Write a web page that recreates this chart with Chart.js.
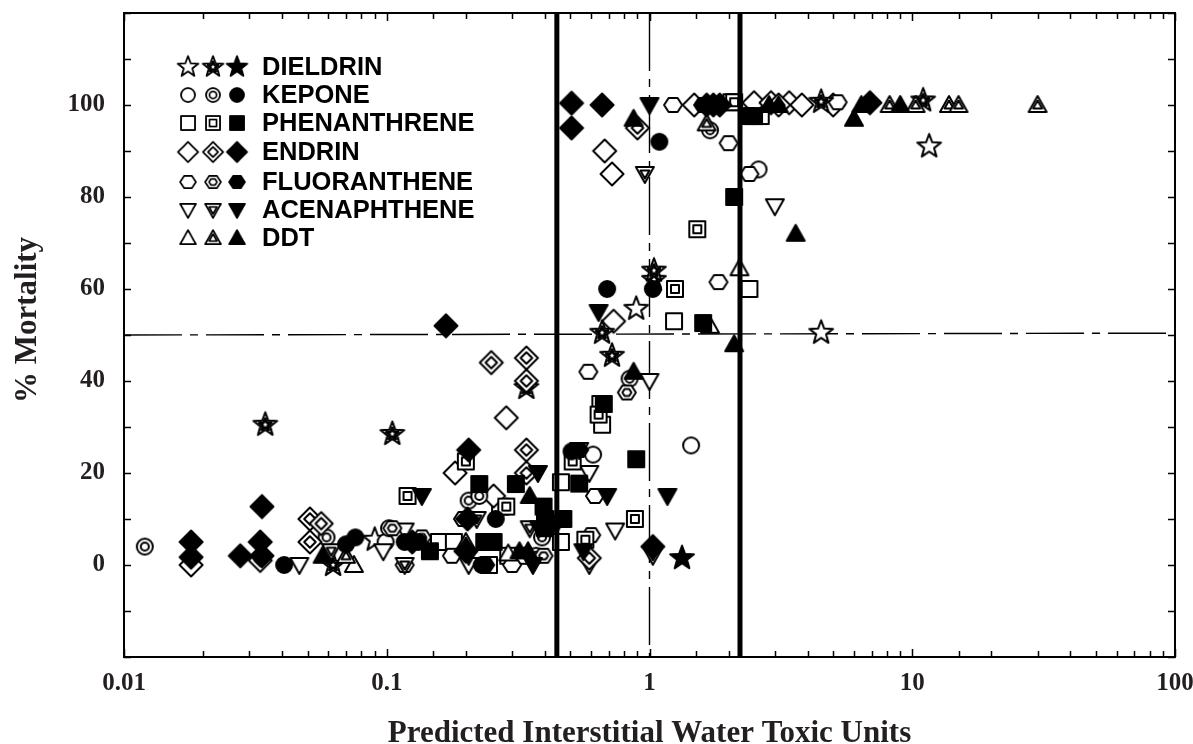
<!DOCTYPE html>
<html>
<head>
<meta charset="utf-8">
<script src="https://cdn.jsdelivr.net/npm/chart.js@4"></script>
<style>
body { margin: 0; background: #fff; }
canvas { display: block; }
</style>
</head>
<body>
<canvas id="mortality" width="1193" height="744"></canvas>
<script>
// values, [toxic units, % mortality]
var dieldrinOpen = [[0.09,5.5],[0.89,55.7],[4.5,50.5],[11.6,91]];
var dieldrinDouble = [[0.0345,30.5],[0.105,28.5],[0.0625,0],[0.34,38.5],[0.66,50.5],[0.72,45.5],[1.04,62],[1.04,64],[4.5,100.7],[11,101]];
var dieldrinFilled = [[1.33,1.5]];
var keponeOpen = [[0.099,5],[0.61,24],[1.44,26],[2.6,86]];
var keponeDouble = [[0.012,4],[0.059,6],[0.102,8],[0.205,14],[0.225,15],[0.34,20],[0.39,6],[0.37,2],[0.84,40.5],[1.7,94.5]];
var keponeFilled = [[0.0407,0],[0.07,4.5],[0.076,6],[0.117,5],[0.132,5],[0.26,10],[0.23,0],[0.43,9],[0.505,24.7],[0.69,60],[1.03,60],[1.09,92]];
var phenanthreneOpen = [[0.158,5],[0.18,5],[0.27,12.7],[0.245,0],[0.29,2],[0.33,2],[0.46,18],[0.46,5],[0.66,30.5],[0.65,35],[1.24,53],[2.4,60],[2.65,97.6],[2.05,100.6]];
var phenanthreneDouble = [[0.12,15],[0.2,22.5],[0.285,12.7],[0.51,22.5],[0.64,32.7],[0.57,5.5],[0.88,10],[1.25,60],[1.52,73],[2.1,100.6]];
var phenanthreneFilled = [[0.146,3],[0.225,17.6],[0.235,5],[0.255,5],[0.31,17.6],[0.395,12.7],[0.4,8],[0.4,10],[0.47,10],[0.54,17.7],[0.67,35],[0.89,23],[1.6,52.6],[2.1,80],[2.35,97.6],[2.5,97.6]];
var endrinOpen = [[0.018,0],[0.182,20],[0.255,15],[0.285,32],[0.675,90],[0.72,85],[0.73,53],[1.48,100],[2.5,100.5],[2.9,100.5],[3.4,100.5],[3.8,100],[5,100]];
var endrinDouble = [[0.033,1],[0.051,10],[0.0563,9],[0.051,5],[0.25,44],[0.34,45],[0.34,40],[0.34,25],[0.34,20],[0.59,1.5],[0.9,95],[3.1,100]];
var endrinFilled = [[0.018,5],[0.018,1.7],[0.0335,12.7],[0.033,5],[0.0277,2],[0.0335,2],[0.125,5],[0.168,52],[0.2,3],[0.205,25],[0.203,10],[0.505,100.4],[0.505,95],[0.66,100],[1.03,4],[1.65,100],[1.75,100],[1.85,100],[6.9,100.5]];
var fluorantheneOpen = [[0.195,10],[0.177,2],[0.3,0],[0.585,42],[0.62,15],[0.6,6.5],[1.23,100],[1.83,61.5],[2,91.7],[2.4,85],[5.2,100.6]];
var fluorantheneDouble = [[0.105,8],[0.117,0],[0.136,6],[0.395,2],[0.82,37.5],[1.7,100]];
var fluorantheneFilled = [[0.237,0],[0.54,25],[1.6,100]];
var acenaphtheneOpen = [[0.0465,0],[0.097,3],[0.117,7.5],[0.205,0],[0.59,0],[0.59,20],[0.74,7.5],[1,40],[3,78]];
var acenaphtheneDouble = [[0.0615,3],[0.117,0],[0.22,10],[0.35,8],[0.54,25],[0.96,85],[1.03,2]];
var acenaphtheneFilled = [[0.136,15],[0.205,2],[0.36,0],[0.38,8],[0.376,20],[0.56,3],[0.64,55],[0.69,15],[1,100],[1.17,15]];
var ddtOpen = [[0.075,0],[0.29,2.5],[1.7,52],[2.2,64.5]];
var ddtDouble = [[0.07,2],[0.2,5],[1.65,96],[8.2,100],[10.3,100],[13.8,100],[15,100],[30,100]];
var ddtFilled = [[0.057,2],[0.32,3],[0.345,3],[0.35,15],[0.87,42],[0.87,97],[2.1,48],[2.85,100],[3.1,100],[3.6,72],[6,97],[6.4,100],[9,100]];

var lowerBound = [[0.444,120],[0.444,-20]];
var upperBound = [[2.21,120],[2.21,-20]];
var unitLine = [[1,120],[1,-20]];
var halfLine = [[0.01,50],[100,50.4]];

var xTickLabels = [0.01,0.1,1,10,100];
var yTickLabels = [0,20,40,60,80,100];
var compounds = ['DIELDRIN','KEPONE','PHENANTHRENE','ENDRIN','FLUORANTHENE','ACENAPHTHENE','DDT'];
var shapes = ['star','circle','square','diamond','hexagon','triangleDown','triangleUp'];
var seriesByCompound = [
  [dieldrinOpen,dieldrinDouble,dieldrinFilled],
  [keponeOpen,keponeDouble,keponeFilled],
  [phenanthreneOpen,phenanthreneDouble,phenanthreneFilled],
  [endrinOpen,endrinDouble,endrinFilled],
  [fluorantheneOpen,fluorantheneDouble,fluorantheneFilled],
  [acenaphtheneOpen,acenaphtheneDouble,acenaphtheneFilled],
  [ddtOpen,ddtDouble,ddtFilled]
];

var legendRowY = [67,95,123,152,182,210,238];
var legendMarkX = [188,213,237];

function toPoints(pairs) {
  return pairs.map(function(p) { return {x: p[0], y: p[1]}; });
}

function tracePath(c, shape, s) {
  c.beginPath();
  if (shape == 'circle') {
    c.arc(0, 0, 8 * s, 0, Math.PI * 2);
  } else if (shape == 'square') {
    c.rect(-8 * s, -8 * s, 16 * s, 16 * s);
  } else if (shape == 'diamond') {
    c.moveTo(0, -11.5 * s); c.lineTo(11.5 * s, 0); c.lineTo(0, 11.5 * s); c.lineTo(-11.5 * s, 0);
    c.closePath();
  } else if (shape == 'hexagon') {
    c.moveTo(-9 * s, 0); c.lineTo(-4.5 * s, -7 * s); c.lineTo(4.5 * s, -7 * s);
    c.lineTo(9 * s, 0); c.lineTo(4.5 * s, 7 * s); c.lineTo(-4.5 * s, 7 * s);
    c.closePath();
  } else if (shape == 'triangleDown') {
    c.moveTo(-9 * s, -7 * s); c.lineTo(9 * s, -7 * s); c.lineTo(0, 9 * s);
    c.closePath();
  } else if (shape == 'triangleUp') {
    c.moveTo(-9 * s, 7 * s); c.lineTo(9 * s, 7 * s); c.lineTo(0, -9 * s);
    c.closePath();
  } else if (shape == 'star') {
    for (var i = 0; i < 10; i++) {
      var r = (i % 2 ? 5.2 : 12.5) * s;
      var a = -Math.PI / 2 + i * Math.PI / 5;
      c[i ? 'lineTo' : 'moveTo'](r * Math.cos(a), r * Math.sin(a));
    }
    c.closePath();
  }
}

function makeMarker(shape, variant) {
  var cv = document.createElement('canvas');
  cv.width = 32; cv.height = 32;
  var c = cv.getContext('2d');
  c.translate(16, 16);
  c.lineJoin = 'round';
  c.strokeStyle = '#000';
  c.fillStyle = variant == 2 ? '#000' : '#fff';
  c.lineWidth = 2;
  tracePath(c, shape, 1);
  c.fill();
  c.stroke();
  if (variant == 1) {
    if (shape == 'star') c.lineWidth = 2.6;
    tracePath(c, shape, 0.5);
    c.stroke();
  }
  return cv;
}

var markers = shapes.map(function(sh) {
  return [makeMarker(sh, 0), makeMarker(sh, 1), makeMarker(sh, 2)];
});

var datasets = [];
function addLine(pairs, width, dash, order) {
  datasets.push({
    type: 'scatter', data: toPoints(pairs), showLine: true, pointRadius: 0,
    borderColor: '#000', borderWidth: width, borderDash: dash, order: order, fill: false
  });
}
addLine(lowerBound, 5, [], 0);
addLine(upperBound, 5, [], 0);
addLine(unitLine, 1.4, [58,8,8,8], 100);
addLine(halfLine, 1.4, [58,8,8,8], 100);

seriesByCompound.forEach(function(group, i) {
  group.forEach(function(pairs, v) {
    datasets.push({
      label: compounds[i] + ' ' + v,
      data: toPoints(pairs),
      pointStyle: markers[i][v],
      pointRadius: 8,
      order: 50 - v * 10 - i
    });
  });
});

// the plot box is fixed, tick labels may hang over its corners
function noScalePadding(s) {
  s.paddingLeft = s.paddingRight = s.paddingTop = s.paddingBottom = 0;
}

// inside ticks and frame, taken from the scales; legend block at upper left
var framePlugin = {
  id: 'frame',
  afterLayout: function(chart) {
    // y title sits above the middle of the axis
    chart.scales.y.top -= 30;
  },
  afterDraw: function(chart) {
    var c = chart.ctx, a = chart.chartArea;
    var xs = chart.scales.x, ys = chart.scales.y;
    c.save();
    c.strokeStyle = '#000';
    c.lineWidth = 1.5;
    c.beginPath();
    xs.ticks.forEach(function(t) {
      var px = Math.round(xs.getPixelForValue(t.value)) + 0.5;
      var len = t.label ? 8 : 6;
      c.moveTo(px, a.top); c.lineTo(px, a.top + len);
      c.moveTo(px, a.bottom); c.lineTo(px, a.bottom - len);
    });
    ys.ticks.forEach(function(t) {
      var py = Math.round(ys.getPixelForValue(t.value)) + 0.5;
      c.moveTo(a.left, py); c.lineTo(a.left + 7, py);
      c.moveTo(a.right, py); c.lineTo(a.right - 7, py);
    });
    c.stroke();
    c.lineWidth = 2;
    c.strokeRect(a.left, a.top, a.right - a.left, a.bottom - a.top);

    c.font = 'bold 25.5px "Liberation Sans"';
    c.fillStyle = '#000';
    c.textAlign = 'left';
    c.textBaseline = 'middle';
    compounds.forEach(function(name, i) {
      legendMarkX.forEach(function(mx, v) {
        c.drawImage(markers[i][v], mx - 14, legendRowY[i] - 14, 28, 28);
      });
      c.fillText(name, 262, legendRowY[i] + 1);
    });
    c.restore();
  }
};

var tickFont = {family: '"Liberation Serif"', weight: 'bold', size: 25};
var titleFont = {family: '"Liberation Serif"', weight: 'bold', size: 31};

new Chart(document.getElementById('mortality'), {
  type: 'scatter',
  data: {datasets: datasets},
  plugins: [framePlugin],
  options: {
    responsive: false,
    animation: false,
    layout: {autoPadding: false, padding: {left: 0, right: 18, top: 13, bottom: 0}},
    plugins: {legend: {display: false}, tooltip: {enabled: false}},
    scales: {
      x: {
        type: 'logarithmic',
        min: 0.01,
        max: 100,
        grid: {display: false, drawTicks: false},
        border: {display: false},
        afterFit: function(s) { s.height = 87; noScalePadding(s); },
        ticks: {
          color: '#231f20',
          font: tickFont,
          padding: 12,
          autoSkip: false,
          maxRotation: 0,
          callback: function(v) {
            var hit = xTickLabels.filter(function(l) { return Math.abs(v / l - 1) < 1e-6; });
            return hit.length ? String(hit[0]) : '';
          }
        },
        title: {display: true, text: 'Predicted Interstitial Water Toxic Units', color: '#231f20', font: titleFont, padding: {top: 0, bottom: -9}}
      },
      y: {
        min: -20,
        max: 120,
        grid: {display: false, drawTicks: false},
        border: {display: false},
        afterFit: function(s) { s.width = 124; noScalePadding(s); },
        ticks: {
          stepSize: 10,
          color: '#231f20',
          font: tickFont,
          padding: 19,
          autoSkip: false,
          callback: function(v) { return yTickLabels.indexOf(v) >= 0 ? String(v) : ''; }
        },
        title: {display: true, text: '% Mortality', color: '#231f20', font: titleFont, padding: {top: 9, bottom: 0}}
      }
    }
  }
});
</script>
</body>
</html>
